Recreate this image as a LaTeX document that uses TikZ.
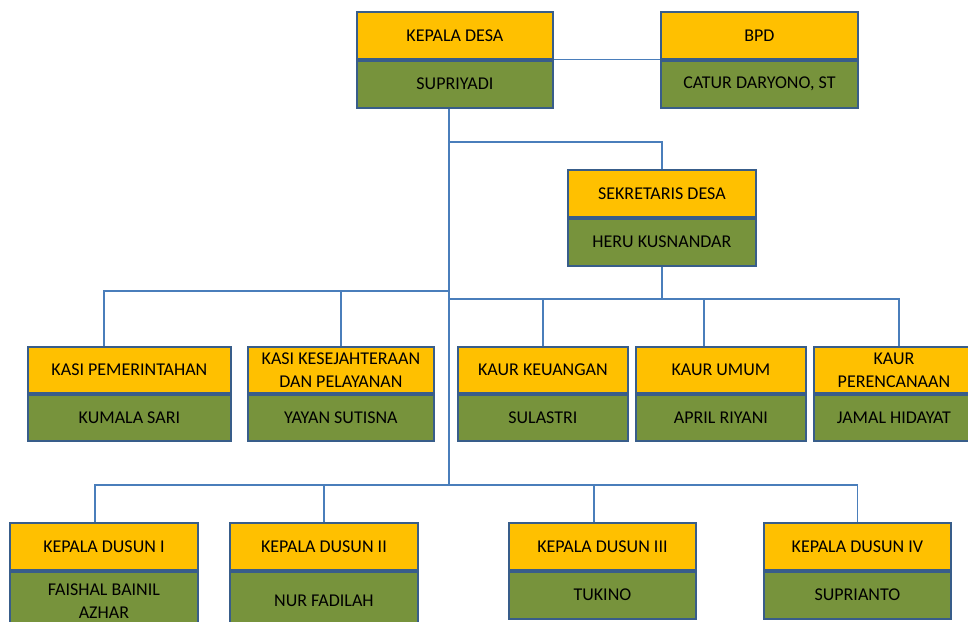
\documentclass[tikz,border=0pt]{standalone}
\usepackage{fontspec}
\setmainfont{Carlito}
\usepackage{tikz}
\usetikzlibrary{positioning}
\definecolor{kuning}{HTML}{FFC000}
\definecolor{hijau}{HTML}{77933C}
\definecolor{tepi}{HTML}{385D8A}
\definecolor{biru}{HTML}{4A7EBB}
\tikzset{
  kotak/.style={draw=tepi, line width=1.8pt, align=center, inner sep=2pt, text=black, font=\fontsize{18}{23}\selectfont},
  jab/.style={kotak, fill=kuning, minimum width=#1, minimum height=47pt},
  nama/.style={kotak, fill=hijau, minimum width=#1, minimum height=47pt},
  garis/.style={draw=biru, line width=1.2pt},
}

\begin{document}
\begin{tikzpicture}[x=1pt, y=-1pt]
\useasboundingbox (0,0) rectangle (968,621);
\clip (0,0) rectangle (968,621);
% pimpinan
\node[jab=196pt, anchor=north west] (kades) at (356,11) {KEPALA DESA};
\node[nama=196pt, below=0pt of kades] (kades-n) {SUPRIYADI};
\node[jab=197pt, anchor=north west] (bpd) at (660,11) {BPD};
\node[nama=197pt, below=0pt of bpd] (bpd-n) {CATUR DARYONO, ST};
\node[jab=188pt, anchor=north west] (sekdes) at (567,169) {SEKRETARIS DESA};
\node[nama=188pt, below=0pt of sekdes] (sekdes-n) {HERU KUSNANDAR};
% kasi dan kaur
\node[jab=203pt, minimum height=46pt, anchor=north west] (kasipem) at (27,346) {KASI PEMERINTAHAN};
\node[nama=203pt, minimum height=46pt, below=0pt of kasipem] (kasipem-n) {KUMALA SARI};
\node[jab=186pt, minimum height=46pt, anchor=north west] (kasikes) at (247,346) {KASI KESEJAHTERAAN\\DAN PELAYANAN};
\node[nama=186pt, minimum height=46pt, below=0pt of kasikes] (kasikes-n) {YAYAN SUTISNA};
\node[jab=170pt, minimum height=46pt, anchor=north west] (keu) at (457,346) {KAUR KEUANGAN};
\node[nama=170pt, minimum height=46pt, below=0pt of keu] (keu-n) {SULASTRI};
\node[jab=170pt, minimum height=46pt, anchor=north west] (umum) at (635,346) {KAUR UMUM};
\node[nama=170pt, minimum height=46pt, below=0pt of umum] (umum-n) {APRIL RIYANI};
\node[jab=160pt, minimum height=46pt, anchor=north west] (ren) at (813,346) {KAUR\\PERENCANAAN};
\node[nama=160pt, minimum height=46pt, below=0pt of ren] (ren-n) {JAMAL HIDAYAT};
% kepala dusun
\node[jab=188pt, anchor=north west] (dusun1) at (9,522) {KEPALA DUSUN I};
\node[nama=188pt, minimum height=58pt, below=0pt of dusun1] (dusun1-n) {FAISHAL BAINIL\\AZHAR};
\node[jab=188pt, anchor=north west] (dusun2) at (229,522) {KEPALA DUSUN II};
\node[nama=188pt, minimum height=58pt, below=0pt of dusun2] (dusun2-n) {NUR FADILAH};
\node[jab=187pt, anchor=north west] (dusun3) at (508,522) {KEPALA DUSUN III};
\node[nama=187pt, below=0pt of dusun3] (dusun3-n) {TUKINO};
\node[jab=187pt, anchor=north west] (dusun4) at (763,522) {KEPALA DUSUN IV};
\node[nama=187pt, below=0pt of dusun4] (dusun4-n) {SUPRIANTO};
% garis
\coordinate (t1) at (449,142);
\coordinate (t2) at (449,291);
\coordinate (t3) at (449,299);
\coordinate (t4) at (449,485);
\draw[garis] (kades.south east) -- (bpd.south west);
\draw[garis] (t4 |- kades-n.south) -- (t4);
\draw[garis] (t1) -| (sekdes.north);
\draw[garis] (sekdes-n.south) -- (sekdes-n.south |- t3);
\draw[garis] (t2) -| ([xshift=-25.5pt]kasipem.north);
\draw[garis] (t2) -| (kasikes.north);
\draw[garis] (t3) -| (keu.north);
\draw[garis] (t3) -| ([xshift=-17pt]umum.north);
\draw[garis] (t3) -| ([xshift=5pt]ren.north);
\draw[garis] (t4) -| ([xshift=-9pt]dusun1.north);
\draw[garis] (t4) -| (dusun2.north);
\draw[garis] (t4) -| ([xshift=-8.5pt]dusun3.north);
\draw[garis] (t4) -| (dusun4.north);
\end{tikzpicture}
\end{document}
